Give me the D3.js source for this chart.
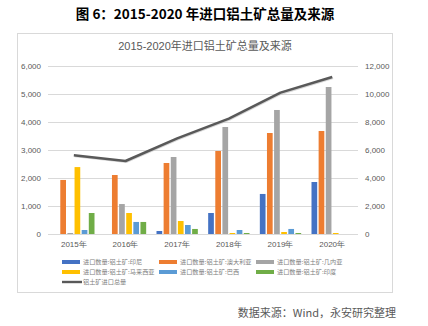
<!DOCTYPE html>
<html><head><meta charset="utf-8">
<script src="https://cdn.jsdelivr.net/npm/d3@7"></script>
<style>
body{margin:0;background:#fff;}
svg{display:block;font-family:"Liberation Sans","Noto Sans CJK SC",sans-serif;}
</style></head>
<body><svg id="c" width="428" height="326"></svg>
<script>
const years = ["2015年","2016年","2017年","2018年","2019年","2020年"];
const seriesNames = ["进口数量:铝土矿:印尼","进口数量:铝土矿:澳大利亚","进口数量:铝土矿:几内亚","进口数量:铝土矿:马来西亚","进口数量:铝土矿:巴西","进口数量:铝土矿:印度"];
const indonesia = [0, 0, 107, 750, 1430, 1857];
const australia = [1930, 2107, 2536, 2964, 3607, 3679];
const guinea = [36, 1070, 2750, 3821, 4429, 5250];
const malaysia = [2390, 750, 464, 36, 71, 36];
const brazil = [143, 430, 321, 143, 180, 0];
const india = [750, 430, 180, 36, 36, 0];
const totalName = "铝土矿进口总量";
const total = [5620, 5214, 6833, 8238, 10095, 11214];
const leftTicks = [0,1000,2000,3000,4000,5000,6000];
const rightTicks = [0,2000,4000,6000,8000,10000,12000];
const colors = ["#4472C4","#ED7D31","#A5A5A5","#FFC000","#5B9BD5","#70AD47"];
const lineColor = "#595959";

const series = [indonesia, australia, guinea, malaysia, brazil, india];
const svg = d3.select("#c");

// outer title
svg.append("text").attr("x",205).attr("y",19).attr("text-anchor","middle")
  .attr("font-size",13.5).attr("font-weight","bold").attr("fill","#000")
  .attr("font-family","'Noto Sans CJK SC',sans-serif")
  .text("图 6：2015-2020 年进口铝土矿总量及来源");

// frame
svg.append("rect").attr("x",17.5).attr("y",33.5).attr("width",375).attr("height",259)
  .attr("fill","#fff").attr("stroke","#d9d9d9");

svg.append("text").attr("x",205).attr("y",50).attr("text-anchor","middle")
  .attr("font-size",11).attr("fill","#595959").text("2015-2020年进口铝土矿总量及来源");

const x0 = d3.scaleBand().domain(years).range([48,358]).paddingInner(0.2).paddingOuter(0.1);
const x1 = d3.scaleBand().domain(d3.range(6)).range([0,x0.bandwidth()]).paddingInner(0.2);
const yL = d3.scaleLinear().domain([0,6000]).range([234,66]);
const yR = d3.scaleLinear().domain([0,12000]).range([234,66]);

// grid
svg.append("g").selectAll("line").data(leftTicks).join("line")
  .attr("x1",48).attr("x2",358).attr("y1",d=>Math.round(yL(d))+0.5).attr("y2",d=>Math.round(yL(d))+0.5)
  .attr("stroke","#d9d9d9").attr("stroke-width",1);

// left axis
const axL = svg.append("g").attr("transform","translate(44,0)")
  .call(d3.axisLeft(yL).tickValues(leftTicks).tickSize(0).tickFormat(d3.format(",")));
axL.select(".domain").remove();
axL.selectAll("text").attr("font-size",8).attr("fill","#595959").attr("font-family","'Liberation Sans',sans-serif");

const axR = svg.append("g").attr("transform","translate(362,0)")
  .call(d3.axisRight(yR).tickValues(rightTicks).tickSize(0).tickFormat(d3.format(",")));
axR.select(".domain").remove();
axR.selectAll("text").attr("font-size",8).attr("fill","#595959").attr("font-family","'Liberation Sans',sans-serif");

// x axis labels
const axB = svg.append("g").attr("transform","translate(0,238)")
  .call(d3.axisBottom(x0).tickSize(0));
axB.select(".domain").remove();
axB.selectAll("text").attr("font-size",8).attr("fill","#595959");

// bars
series.forEach((vals,si)=>{
  svg.append("g").selectAll("rect").data(vals).join("rect")
    .attr("x",(d,i)=>x0(years[i])+x1(si))
    .attr("width",x1.bandwidth())
    .attr("y",d=>yL(d))
    .attr("height",d=>yL(0)-yL(d))
    .attr("fill",colors[si]);
});

// line
const line = d3.line().x((d,i)=>x0(years[i])+x0.bandwidth()/2).y(d=>yR(d));
svg.append("path").datum(total).attr("d",line).attr("fill","none")
  .attr("stroke","#bbb").attr("stroke-width",2.5).attr("transform","translate(0.8,0.8)").attr("opacity",0.6);
svg.append("path").datum(total).attr("d",line).attr("fill","none")
  .attr("stroke",lineColor).attr("stroke-width",2.5).attr("stroke-linejoin","round");

// legend
const legCols = [62,159,256];
const legRows = [262,272,282];
const leg = svg.append("g");
seriesNames.forEach((n,i)=>{
  const cx = legCols[i%3], cy = legRows[Math.floor(i/3)];
  leg.append("rect").attr("x",cx).attr("y",cy-2).attr("width",18).attr("height",4).attr("fill",colors[i]);
  leg.append("text").attr("x",cx+21).attr("y",cy+2.3).attr("font-size",6.2).attr("fill","#7f7f7f")
    .attr("font-family","'Noto Sans CJK SC',sans-serif").text(n);
});
leg.append("rect").attr("x",62).attr("y",legRows[2]-1.2).attr("width",20).attr("height",2.4).attr("fill",lineColor);
leg.append("text").attr("x",83).attr("y",legRows[2]+2.3).attr("font-size",6.2).attr("fill","#7f7f7f")
  .attr("font-family","'Noto Sans CJK SC',sans-serif").text(totalName);

// source
svg.append("text").attr("x",396).attr("y",317).attr("text-anchor","end")
  .attr("font-size",11).attr("fill","#595959").attr("font-family","'Noto Sans CJK SC',sans-serif")
  .text("数据来源：Wind，永安研究整理");
</script></body></html>
